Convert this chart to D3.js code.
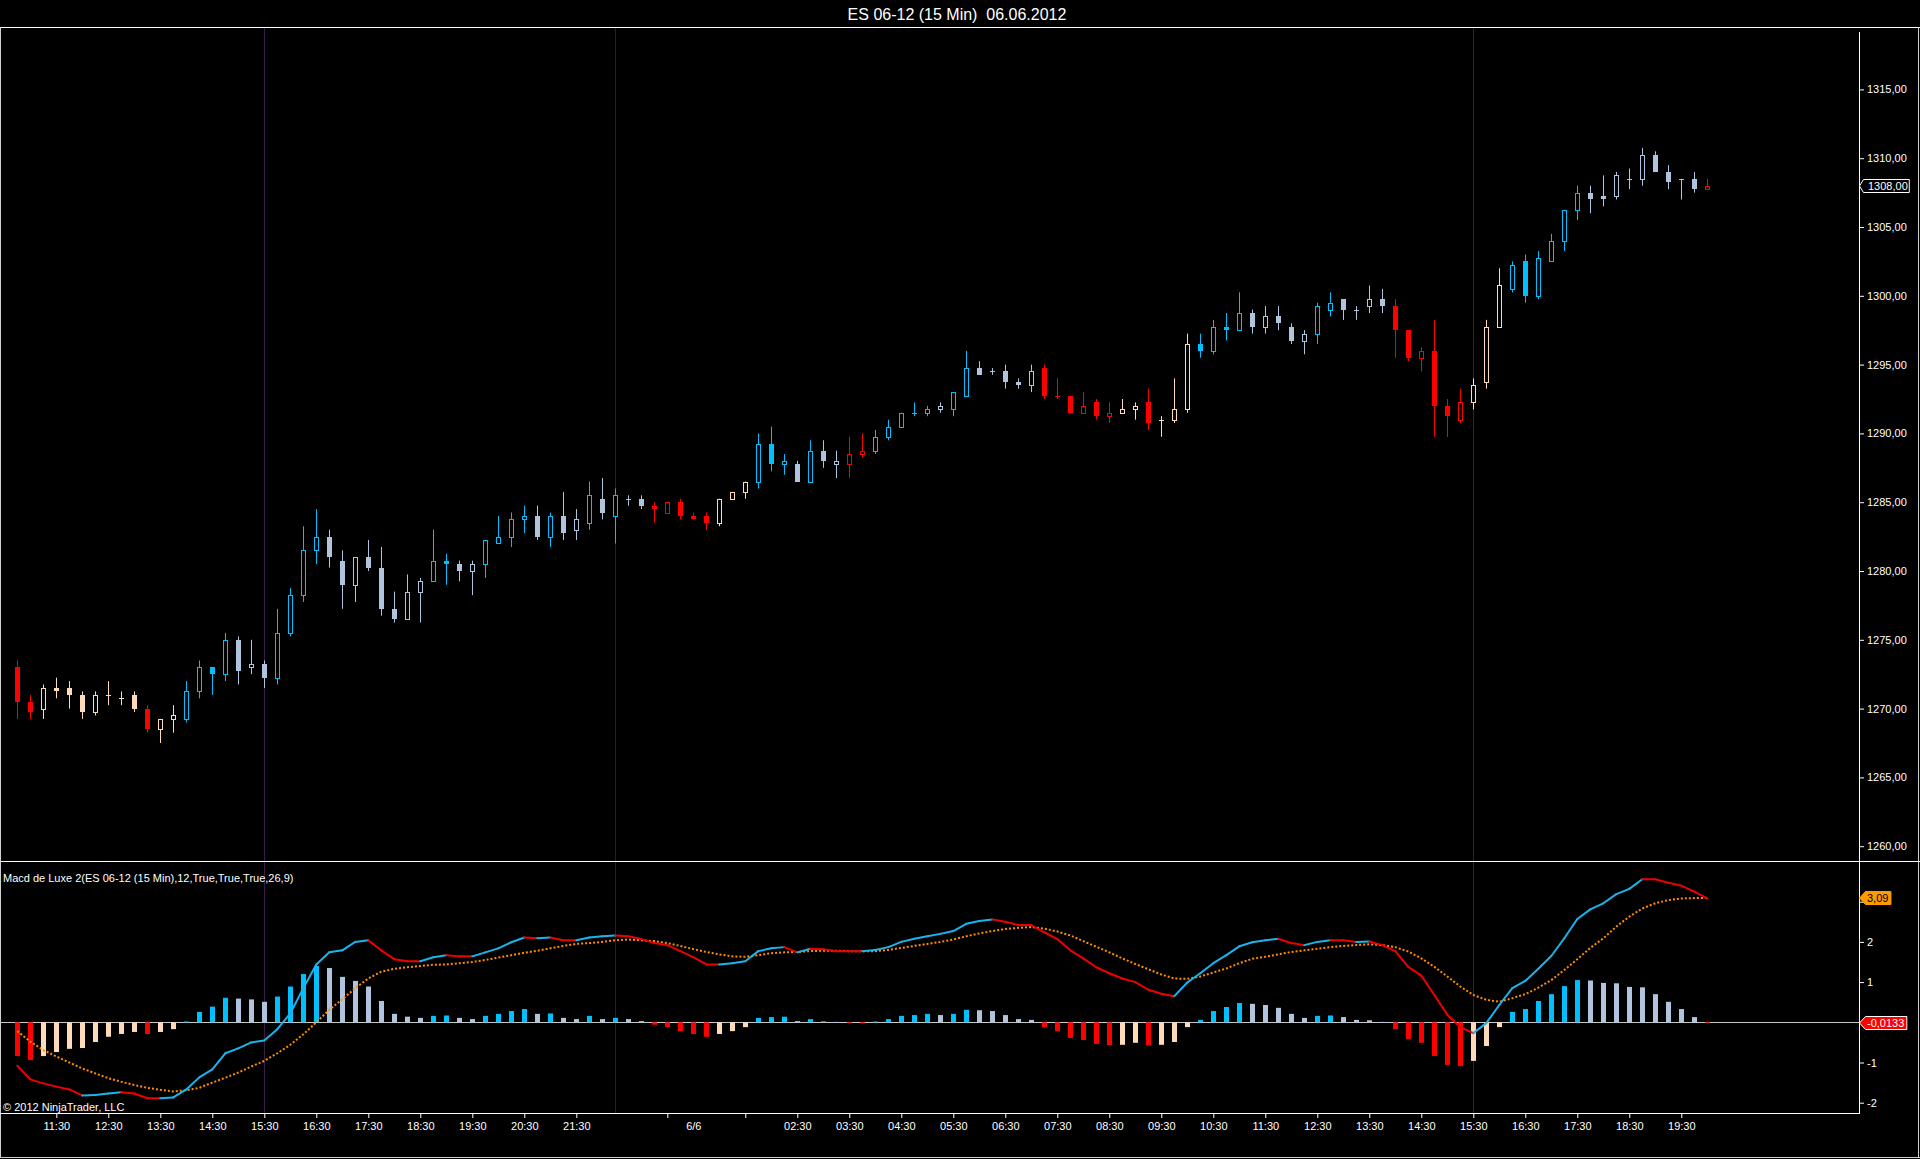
<!DOCTYPE html>
<html>
<head>
<meta charset="utf-8">
<script src="https://cdn.jsdelivr.net/npm/d3@7"></script>
<style>
  html, body { margin: 0; background: #000; overflow: hidden; }
</style>
</head>
<body>
<div id="chart"></div>
<script>
// 15 min bars, two sessions
var day1Times = ["10:45","11:00","11:15","11:30","11:45","12:00","12:15","12:30","12:45","13:00",
    "13:15","13:30","13:45","14:00","14:15","14:30","14:45","15:00","15:15","15:30",
    "15:45","16:00","16:15","16:30","16:45","17:00","17:15","17:30","17:45","18:00",
    "18:15","18:30","18:45","19:00","19:15","19:30","19:45","20:00","20:15","20:30",
    "20:45","21:00","21:15","21:30","21:45","22:00","22:15","22:30","22:45","23:00","23:15"];
var day2Times = ["00:15","00:30","00:45","01:00","01:15","01:30","01:45","02:00","02:15","02:30",
    "02:45","03:00","03:15","03:30","03:45","04:00","04:15","04:30","04:45","05:00",
    "05:15","05:30","05:45","06:00","06:15","06:30","06:45","07:00","07:15","07:30",
    "07:45","08:00","08:15","08:30","08:45","09:00","09:15","09:30","09:45","10:00",
    "10:15","10:30","10:45","11:00","11:15","11:30","11:45","12:00","12:15","12:30",
    "12:45","13:00","13:15","13:30","13:45","14:00","14:15","14:30","14:45","15:00",
    "15:15","15:30","15:45","16:00","16:15","16:30","16:45","17:00","17:15","17:30",
    "17:45","18:00","18:15","18:30","18:45","19:00","19:15","19:30","19:45","20:00"];
var times = day1Times.map(t => "6/5 " + t).concat(day2Times.map(t => "6/6 " + t));

var opens = [1273,1270.5,1270,1271.5,1271.5,1271,1269.75,1271,1270.75,1271,
    1270,1268.5,1269.25,1269.25,1271.25,1273,1272.5,1275,1273,1273.25,
    1272.25,1275.5,1278.25,1281.5,1282.5,1280.75,1279,1281,1280.25,1277.25,
    1276.5,1278.5,1279.25,1280.75,1280.5,1280,1280.5,1282,1282.5,1283.75,
    1284,1282.5,1284,1283,1283.5,1285.25,1284,1285.25,1285.25,1284.75,
    1284.25,1285,1284,1284,1283.5,1285.25,1285.75,1286.5,1289.25,1287.75,
    1287.75,1286.5,1288.75,1287.75,1287.75,1288.5,1288.75,1289.75,1290.5,1291.5,
    1291.5,1291.75,1291.75,1292.75,1294.75,1294.5,1294.5,1293.75,1293.5,1294.75,
    1292.75,1292.75,1291.5,1292.25,1291.25,1291.5,1291.75,1292.25,1291,1291,
    1291.75,1296.5,1296,1297.75,1297.5,1298.75,1297.75,1298.5,1297.75,1296.75,
    1297.25,1299,1299.75,1299,1299.25,1299.75,1299.25,1297.5,1295.5,1296,
    1292,1291,1292.25,1293.75,1297.75,1300.5,1302.5,1300,1302.5,1304,
    1306.25,1307.5,1307.25,1307.25,1308.5,1308.5,1310.25,1309,1308.5,1308.5,
    1307.75];
var highs = [1273.5,1271,1271.75,1272.25,1272,1271.25,1271.25,1272,1271.25,1271.25,
    1270.25,1269.25,1270.25,1272,1273.5,1273,1275.5,1275.25,1275,1273.5,
    1277.25,1278.75,1283.25,1284.5,1283,1281.5,1281,1282.25,1281.75,1278.5,
    1279.75,1279.5,1283,1281.25,1280.75,1280.75,1282.25,1284,1284.25,1284.75,
    1284.75,1284.25,1285.75,1284.5,1286.5,1286.75,1286,1285.5,1285.5,1285,
    1285,1285.25,1284.25,1284.25,1285.25,1285.75,1286.5,1290,1290.5,1288.5,
    1288,1289.5,1289.5,1288.75,1289.75,1290,1290.25,1291,1291.5,1292.25,
    1292,1292.25,1293,1296,1295.25,1294.75,1295,1294,1295,1295,
    1294,1292.75,1293,1292.5,1292.25,1292.5,1292.25,1293.25,1291.25,1294,
    1297.25,1297.25,1298.25,1298.75,1300.25,1299,1299.25,1299.25,1298,1297.5,
    1299.5,1300.25,1299.75,1299.25,1300.75,1300.5,1299.75,1297.5,1296.25,1298.25,
    1292.5,1293.25,1294,1298.25,1302,1302.5,1303,1303.25,1304.5,1306.25,
    1308,1308,1308.75,1309,1309.25,1310.75,1310.5,1309.5,1308.5,1309,
    1308.5];
var lows = [1269.25,1269.25,1269.25,1270.75,1270,1269.25,1269.5,1270.25,1270.25,1269.75,
    1268.25,1267.5,1268.25,1269,1270.75,1271,1272,1271.75,1272.5,1271.5,
    1271.75,1275.25,1277.75,1280.5,1280.25,1277.25,1277.75,1280,1276.75,1276.25,
    1276.5,1276.25,1279.25,1279,1279.25,1278.25,1279.5,1282,1281.75,1282.75,
    1282.25,1281.75,1282.25,1282.25,1283,1283.75,1282,1284.75,1284.5,1283.5,
    1284.25,1283.75,1283.75,1283,1283.25,1285.25,1285.25,1286,1287.25,1287,
    1286.5,1286.5,1287.5,1286.75,1286.75,1288.25,1288.5,1289.5,1290.5,1291.25,
    1291.25,1291.5,1291.25,1292.75,1294.25,1294.25,1293.25,1293.25,1293,1292.5,
    1292.5,1291.5,1291.5,1291,1290.75,1291.5,1291,1290.25,1289.75,1290.75,
    1291.5,1295.5,1295.75,1296.75,1297.5,1297.25,1297.25,1297.5,1296.5,1295.75,
    1296.5,1298.5,1298.25,1298.25,1298.75,1298.75,1295.5,1295.25,1294.5,1289.75,
    1289.75,1290.75,1291.75,1293.25,1297.75,1300.25,1299.5,1299.75,1302.5,1303.25,
    1305.5,1306,1306.5,1307,1307.75,1308,1309,1307.75,1307,1307.5,
    1307.75];
var closes = [1270.5,1269.75,1271.5,1271.25,1271,1269.75,1271,1271,1270.75,1270,
    1268.5,1269.25,1269.5,1271.25,1273,1272.5,1275,1272.75,1273.25,1272.25,
    1275.5,1278.25,1281.5,1282.5,1281,1279,1281,1280.25,1277.25,1276.5,
    1278.5,1279.25,1280.75,1280.5,1280,1280.5,1282.25,1282.5,1283.75,1284,
    1282.5,1284,1282.75,1283.75,1285.5,1284.25,1285.5,1285.25,1284.75,1284.5,
    1285,1284,1283.75,1283.5,1285.25,1285.75,1286.5,1289.25,1287.75,1288,
    1286.5,1288.75,1288,1288,1288.5,1288.75,1289.75,1290.5,1291.5,1291.5,
    1291.75,1292,1293,1294.75,1294.25,1294.5,1293.75,1293.5,1294.5,1292.75,
    1292.75,1291.5,1292,1291.25,1291.5,1291.75,1292,1290.75,1291,1291.75,
    1296.5,1296,1297.75,1297.5,1298.75,1297.75,1298.5,1298,1296.75,1297.25,
    1299.25,1299.5,1299,1299,1299.75,1299.25,1297.5,1295.5,1296,1292,
    1291.25,1292.25,1293.5,1297.75,1300.75,1302.25,1300,1302.75,1304,1306.25,
    1307.5,1307,1307,1308.75,1308.5,1310.25,1309,1308.25,1308.5,1307.75,
    1308];

// macd state per bar: R falling below 0, P rising below 0, B rising above 0, S falling above 0
var barState = ["R","R","P","P","P","P","P","P","P","P",
    "R","P","P","B","B","B","B","S","S","S",
    "B","B","B","B","S","S","S","S","S","S",
    "S","S","B","B","S","S","B","B","B","B",
    "S","B","S","S","B","S","B","S","S","R",
    "R","R","R","R","P","P","P","B","B","B",
    "S","B","S","S","R","R","B","B","B","B",
    "B","S","B","B","S","S","S","S","S","R",
    "R","R","R","R","R","P","P","R","P","P",
    "P","B","B","B","B","S","S","S","S","S",
    "B","B","S","S","S","S","R","R","R","R",
    "R","R","P","P","P","B","B","B","B","B",
    "B","S","S","S","S","S","S","S","S","S",
    "R"];

var macdValues = [-1.08,-1.42,-1.52,-1.60,-1.67,-1.82,-1.81,-1.77,-1.74,-1.77,
    -1.89,-1.89,-1.87,-1.67,-1.37,-1.17,-0.77,-0.65,-0.50,-0.45,
    -0.17,0.22,0.85,1.44,1.74,1.79,2.00,2.04,1.79,1.57,
    1.52,1.52,1.62,1.67,1.64,1.64,1.74,1.84,1.99,2.11,
    2.09,2.11,2.04,2.04,2.11,2.14,2.16,2.14,2.07,1.97,
    1.92,1.77,1.62,1.44,1.44,1.47,1.52,1.77,1.84,1.87,
    1.74,1.83,1.82,1.77,1.77,1.77,1.80,1.87,2.00,2.08,
    2.14,2.20,2.27,2.45,2.52,2.56,2.50,2.42,2.42,2.24,
    2.07,1.79,1.59,1.37,1.22,1.09,1.00,0.81,0.71,0.65,
    0.99,1.22,1.47,1.67,1.89,1.99,2.04,2.08,1.97,1.92,
    2.00,2.04,2.04,2.00,2.01,1.92,1.77,1.38,1.16,0.68,
    0.19,-0.12,-0.27,-0.02,0.43,0.85,1.03,1.33,1.65,2.09,
    2.57,2.81,2.96,3.19,3.32,3.56,3.56,3.47,3.40,3.25,
    3.08];
var signalValues = [-0.22,-0.48,-0.69,-0.85,-1.00,-1.15,-1.27,-1.39,-1.48,-1.56,
    -1.63,-1.68,-1.72,-1.69,-1.63,-1.50,-1.38,-1.25,-1.10,-0.96,
    -0.77,-0.56,-0.30,0.00,0.31,0.57,0.85,1.09,1.26,1.33,
    1.37,1.40,1.43,1.44,1.47,1.50,1.55,1.61,1.67,1.73,
    1.78,1.84,1.90,1.95,1.97,2.00,2.04,2.06,2.04,2.02,
    1.97,1.90,1.82,1.75,1.69,1.64,1.63,1.67,1.72,1.74,
    1.75,1.77,1.78,1.78,1.77,1.77,1.77,1.80,1.85,1.90,
    1.95,2.00,2.06,2.14,2.21,2.27,2.32,2.35,2.37,2.33,
    2.26,2.16,2.02,1.88,1.74,1.59,1.45,1.32,1.19,1.09,
    1.08,1.14,1.24,1.34,1.47,1.58,1.63,1.69,1.75,1.79,
    1.83,1.87,1.90,1.92,1.94,1.92,1.87,1.76,1.59,1.38,
    1.14,0.89,0.68,0.56,0.51,0.60,0.70,0.86,1.05,1.30,
    1.57,1.85,2.09,2.38,2.63,2.83,2.96,3.04,3.08,3.09,
    3.09];
var histValues = [-0.84,-0.94,-0.84,-0.74,-0.66,-0.64,-0.49,-0.36,-0.29,-0.24,
    -0.29,-0.24,-0.17,0.02,0.26,0.39,0.61,0.59,0.57,0.51,
    0.64,0.89,1.20,1.40,1.35,1.13,1.03,0.89,0.53,0.21,
    0.14,0.11,0.16,0.17,0.11,0.08,0.16,0.21,0.28,0.33,
    0.21,0.22,0.11,0.08,0.16,0.08,0.11,0.08,0.03,-0.06,
    -0.12,-0.22,-0.29,-0.36,-0.29,-0.22,-0.12,0.11,0.13,0.14,
    0.03,0.08,0.02,0.01,-0.02,-0.03,0.02,0.08,0.16,0.18,
    0.21,0.18,0.21,0.31,0.30,0.28,0.18,0.08,0.06,-0.12,
    -0.22,-0.39,-0.44,-0.54,-0.57,-0.56,-0.51,-0.57,-0.56,-0.49,
    -0.12,0.06,0.28,0.38,0.48,0.46,0.43,0.36,0.21,0.11,
    0.16,0.17,0.13,0.06,0.05,0.01,-0.17,-0.41,-0.51,-0.84,
    -1.06,-1.09,-0.96,-0.59,-0.12,0.26,0.33,0.53,0.70,0.90,
    1.05,1.04,0.98,0.97,0.88,0.87,0.70,0.51,0.33,0.13,
    -0.0133];

var priceTicks = [1260,1265,1270,1275,1280,1285,1290,1295,1300,1305,1310,1315];
var macdTicks = [-2,-1,0,1,2,3];
var xTickAt = ["6/5 11:30","6/5 12:30","6/5 13:30","6/5 14:30","6/5 15:30","6/5 16:30",
    "6/5 17:30","6/5 18:30","6/5 19:30","6/5 20:30","6/5 21:30","6/6 00:30",
    "6/6 02:30","6/6 03:30","6/6 04:30","6/6 05:30","6/6 06:30","6/6 07:30",
    "6/6 08:30","6/6 09:30","6/6 10:30","6/6 11:30","6/6 12:30","6/6 13:30",
    "6/6 14:30","6/6 15:30","6/6 16:30","6/6 17:30","6/6 18:30","6/6 19:30"];
var xTickText = ["11:30","12:30","13:30","14:30","15:30","16:30","17:30","18:30","19:30","20:30",
    "21:30","6/6","02:30","03:30","04:30","05:30","06:30","07:30","08:30","09:30",
    "10:30","11:30","12:30","13:30","14:30","15:30","16:30","17:30","18:30","19:30"];
var xMinorTicks = ["6/5 23:15","6/6 01:30"];
var sessionLines = ["6/5 15:30","6/5 22:15","6/6 15:30"];

var stateColor = { R: "#ff0000", P: "#ffdab9", B: "#00bfff", S: "#b0c4de" };
var fontFam = "'Liberation Sans', Arial, sans-serif";

var svgWidth = 1920;
var svgHeight = 1159;
var axisX = 1859;
var topY = 27;
var sepY = 861;
var botY = 1113;

var xScale = d3.scalePoint()
    .domain(times)
    .range([17.3, 1707.3]);

var yPrice = d3.scaleLinear()
    .domain([1260, 1315])
    .range([846.2, 89.4]);

var yMacd = d3.scaleLinear()
    .domain([-2, 3])
    .range([1102.7, 901.7]);

var lastClose = closes[closes.length - 1];
var lastSignal = signalValues[signalValues.length - 1];
var lastHist = histValues[histValues.length - 1];

var svg = d3.select("#chart")
    .append("svg")
    .attr("width", svgWidth)
    .attr("height", svgHeight)
    .style("background", "#000")
    .style("display", "block");

// title
svg.append("text")
    .attr("x", 957)
    .attr("y", 19.5)
    .attr("text-anchor", "middle")
    .attr("fill", "#fff")
    .attr("font-family", fontFam)
    .attr("font-size", "16px")
    .style("white-space", "pre")
    .text("ES 06-12 (15 Min)  06.06.2012");

// session markers
svg.selectAll("line.session")
    .data(sessionLines)
    .enter()
    .append("line")
    .attr("class", "session")
    .attr("x1", d => Math.round(xScale(d)) + 0.5)
    .attr("x2", d => Math.round(xScale(d)) + 0.5)
    .attr("y1", topY)
    .attr("y2", botY)
    .attr("stroke", (d, i) => i == 1 ? "#4a0c26" : "#3a1d46");

// frame
function hline(y, x1, x2, col) {
    svg.append("line").attr("x1", x1).attr("x2", x2).attr("y1", y).attr("y2", y)
        .attr("stroke", col || "#fff");
}
function vline(x, y1, y2, col) {
    svg.append("line").attr("x1", x).attr("x2", x).attr("y1", y1).attr("y2", y2)
        .attr("stroke", col || "#fff");
}
hline(topY + 0.5, 0, svgWidth);
hline(sepY + 0.5, 0, svgWidth);
hline(botY + 0.5, 0, axisX + 1);
hline(1157.5, 0, svgWidth, "#d0d0d0");
vline(0.5, topY, 1158, "#d0d0d0");
vline(1918.5, topY, 1158, "#d0d0d0");
vline(axisX + 0.5, 32, botY + 1);

// MACD zero line
hline(Math.round(yMacd(0)) + 0.5, 0, axisX, "#c8c8c8");

// candles
var candles = svg.append("g");
times.forEach((t, i) => {
    let cx = Math.round(xScale(t)) + 0.5;
    let col = stateColor[barState[i]];
    let o = opens[i], c = closes[i];
    let yTop = Math.round(yPrice(Math.max(o, c)));
    let yBot = Math.round(yPrice(Math.min(o, c)));

    candles.append("line")
        .attr("x1", cx).attr("x2", cx)
        .attr("y1", yPrice(highs[i])).attr("y2", yPrice(lows[i]))
        .attr("stroke", col);

    if (o == c) {
        candles.append("line")
            .attr("x1", cx - 2.5).attr("x2", cx + 2.5)
            .attr("y1", yTop + 0.5).attr("y2", yTop + 0.5)
            .attr("stroke", col);
    } else if (c > o) {
        candles.append("rect")
            .attr("x", cx - 2).attr("width", 4)
            .attr("y", yTop + 0.5).attr("height", Math.max(1, yBot - yTop))
            .attr("fill", "#000")
            .attr("stroke", col);
    } else {
        candles.append("rect")
            .attr("x", cx - 2.5).attr("width", 5)
            .attr("y", yTop).attr("height", Math.max(1, yBot - yTop))
            .attr("fill", col);
    }
});

// histogram
svg.append("g")
    .selectAll("rect")
    .data(histValues)
    .enter()
    .append("rect")
    .attr("x", (d, i) => Math.round(xScale(times[i])) - 2)
    .attr("width", 5)
    .attr("y", d => Math.min(yMacd(d), yMacd(0)))
    .attr("height", d => Math.max(1, Math.abs(yMacd(d) - yMacd(0))))
    .attr("fill", (d, i) => stateColor[barState[i]]);

// signal line (dotted)
var line = d3.line()
    .x((d, i) => xScale(times[i]))
    .y(d => yMacd(d));

svg.append("path")
    .datum(signalValues)
    .attr("d", line)
    .attr("fill", "none")
    .attr("stroke", "#ff8c00")
    .attr("stroke-width", 2)
    .attr("stroke-dasharray", "2,2");

// macd line, coloured by slope
var segLine = d3.line().x(d => d[0]).y(d => d[1]);
macdValues.forEach((v, i) => {
    if (i == 0) return;
    let p = macdValues[i - 1];
    svg.append("path")
        .attr("d", segLine([[xScale(times[i - 1]), yMacd(p)], [xScale(times[i]), yMacd(v)]]))
        .attr("fill", "none")
        .attr("stroke", v > p ? "#1ab4ec" : "#ee0000")
        .attr("stroke-width", 2)
        .attr("stroke-linecap", "round");
});

// axes
function styleAxis(g) {
    g.attr("font-family", fontFam).attr("font-size", 11);
    g.select(".domain").remove();
    g.selectAll(".tick line").attr("stroke", "#fff");
    g.selectAll(".tick text").attr("fill", "#fff");
}

svg.append("g")
    .attr("transform", "translate(" + axisX + ",0)")
    .call(d3.axisRight(yPrice)
        .tickValues(priceTicks)
        .tickSize(5)
        .tickPadding(3)
        .tickFormat(d => d.toFixed(2).replace(".", ",")))
    .call(styleAxis);

// labels for 0 and 3 sit under the value tags, as in NinjaTrader
svg.append("g")
    .attr("transform", "translate(" + axisX + ",0)")
    .call(d3.axisRight(yMacd)
        .tickValues(macdTicks)
        .tickSize(5)
        .tickPadding(3)
        .tickFormat(d => (d == 0 || d == 3) ? "" : String(d)))
    .call(styleAxis);

svg.append("g")
    .attr("transform", "translate(0," + botY + ")")
    .call(d3.axisBottom(xScale)
        .tickValues(xTickAt)
        .tickSize(5)
        .tickPadding(4)
        .tickFormat((d, i) => xTickText[i]))
    .call(styleAxis)
    .call(g => g.selectAll(".tick").filter(d => d == "6/6 00:30").select("line").remove());

svg.append("g")
    .attr("transform", "translate(0," + botY + ")")
    .call(d3.axisBottom(xScale)
        .tickValues(xMinorTicks)
        .tickSize(5)
        .tickFormat(() => ""))
    .call(styleAxis);

// value tags on the right axis
function tag(yPos, label, fill, stroke, textCol, gap, padL, padR) {
    let g = svg.append("g");
    let path = g.append("path");
    let txt = g.append("text")
        .attr("x", axisX + gap + padL)
        .attr("y", yPos)
        .attr("dy", "0.35em")
        .attr("fill", textCol)
        .attr("font-family", fontFam)
        .attr("font-size", "11px")
        .text(label);
    let w = txt.node().getComputedTextLength();
    let x0 = axisX + 0.5, x1 = axisX + gap + 0.5, x2 = x1 + padL + w + padR;
    let y0 = Math.round(yPos) - 6.5, y1 = Math.round(yPos) + 6.5;
    path.attr("d", "M" + x0 + "," + Math.round(yPos) + "L" + x1 + "," + y0 + "L" + x2 + "," + y0 +
            "L" + x2 + "," + y1 + "L" + x1 + "," + y1 + "Z")
        .attr("fill", fill)
        .attr("stroke", stroke);
}

tag(yPrice(lastClose), lastClose.toFixed(2).replace(".", ","), "#000", "#fff", "#fff", 4, 5, 1);
tag(yMacd(lastSignal), lastSignal.toFixed(2).replace(".", ","), "#ff9a00", "#ff9a00", "#000", 6, 2, 2);
tag(yMacd(lastHist), lastHist.toFixed(4).replace(".", ","), "#ff0000", "#fff", "#fff", 6, 2, 2);

// panel labels
svg.append("text")
    .attr("x", 3)
    .attr("y", 882)
    .attr("fill", "#fff")
    .attr("font-family", fontFam)
    .attr("font-size", "11px")
    .text("Macd de Luxe 2(ES 06-12 (15 Min),12,True,True,True,26,9)");

svg.append("text")
    .attr("x", 3)
    .attr("y", 1111)
    .attr("fill", "#fff")
    .attr("font-family", fontFam)
    .attr("font-size", "11px")
    .text("\u00a9 2012 NinjaTrader, LLC");
</script>
</body>
</html>
